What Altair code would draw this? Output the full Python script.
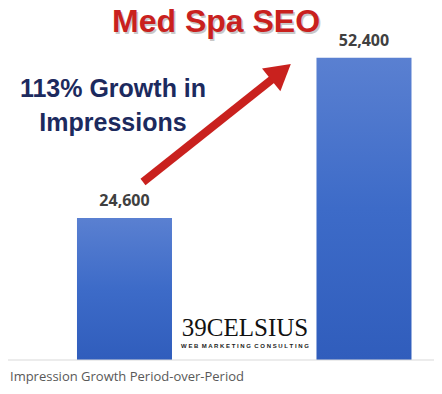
import altair as alt
import pandas as pd

periods = ["Previous Period", "Current Period"]
impressions = [24600, 52400]
value_labels = ["24,600", "52,400"]

title_text = "Med Spa SEO"
growth_lines = ["113% Growth in", "Impressions"]
logo_main = "39CELSIUS"
logo_sub = "\u00a0\u00a0".join([" ".join(w) for w in ["WEB", "MARKETING", "CONSULTING"]])
caption = "Impression Growth Period-over-Period"

TOP = 5
W, H = 426, 352 - TOP
RED = "#c9211e"
NAVY = "#1c2a5e"

df = pd.DataFrame({"period": periods, "impressions": impressions, "label": value_labels})

x = alt.X("period:N", sort=periods, axis=None,
          scale=alt.Scale(paddingInner=0.6033, paddingOuter=0.191, align=0.754))
y = alt.Y("impressions:Q", axis=None, scale=alt.Scale(domain=[0, 61000 * H / 352]))

base = alt.Chart(df)

bars = base.mark_bar(
    color=alt.Gradient(
        gradient="linear", x1=0, x2=0, y1=0, y2=1,
        stops=[alt.GradientStop(color="#5a80d1", offset=0),
               alt.GradientStop(color="#3d6bc8", offset=0.5),
               alt.GradientStop(color="#305dbc", offset=1)],
    )
).encode(x=x, y=y)

labels = base.mark_text(font="Open Sans", fontWeight="bold", fontSize=16, color="#404040",
                        baseline="alphabetic", dy=-12).encode(x=x, y=y, text="label:N")

baseline_rule = alt.Chart(pd.DataFrame({"v": [0]})).mark_rule(color="#d9d9d9", strokeWidth=1.2).encode(
    y=alt.value(H), x=alt.value(0), x2=alt.value(W))

title_shadow = alt.Chart(pd.DataFrame({"t": [title_text]})).mark_text(
    font="Liberation Sans", fontWeight="bold", fontSize=32, color="#777777", opacity=0.4,
    baseline="alphabetic", align="center").encode(text="t:N", x=alt.value(209.5), y=alt.value(26 - TOP))
title = alt.Chart(pd.DataFrame({"t": [title_text]})).mark_text(
    font="Liberation Sans", fontWeight="bold", fontSize=32, color=RED,
    baseline="alphabetic", align="center").encode(text="t:N", x=alt.value(208), y=alt.value(24 - TOP))

growth = alt.Chart(pd.DataFrame({"t": ["\n".join(growth_lines)]})).mark_text(
    font="Liberation Sans", fontWeight="bold", fontSize=25, color=NAVY,
    baseline="alphabetic", align="center", lineBreak="\n", lineHeight=34).encode(
    text="t:N", x=alt.value(105), y=alt.value(89 - TOP))

arrow_shaft = alt.Chart(pd.DataFrame({"a": [0]})).mark_rule(color=RED, strokeWidth=8).encode(
    x=alt.value(135), y=alt.value(174 - TOP), x2=alt.value(267), y2=alt.value(69 - TOP))
arrow_head = alt.Chart(pd.DataFrame({"a": [0]})).mark_point(
    shape="triangle-up", filled=True, color=RED, opacity=1, size=850, angle=51).encode(
    x=alt.value(273), y=alt.value(64 - TOP))

logo1 = alt.Chart(pd.DataFrame({"t": [logo_main]})).mark_text(
    font="Liberation Serif", fontSize=25, color="#111111", baseline="alphabetic", align="center").encode(
    text="t:N", x=alt.value(237), y=alt.value(328 - TOP))
logo2 = alt.Chart(pd.DataFrame({"t": [logo_sub]})).mark_text(
    font="Liberation Sans", fontWeight="bold", fontSize=6, color="#222222", baseline="alphabetic",
    align="center").encode(text="t:N", x=alt.value(237), y=alt.value(340 - TOP))

cap = alt.Chart(pd.DataFrame({"t": [caption]})).mark_text(
    font="Open Sans", fontSize=13, color="#595959", baseline="alphabetic", align="left").encode(
    text="t:N", x=alt.value(2), y=alt.value(373 - TOP))

chart = alt.layer(
    bars, baseline_rule, labels, title_shadow, title, growth, arrow_shaft, arrow_head, logo1, logo2, cap
).properties(
    width=W, height=H,
    padding={"left": 0, "top": TOP, "right": 0, "bottom": 26},
    autosize="none",
).configure_view(stroke=None)

chart.save("out.html", embed_options={"renderer": "svg", "actions": False})
